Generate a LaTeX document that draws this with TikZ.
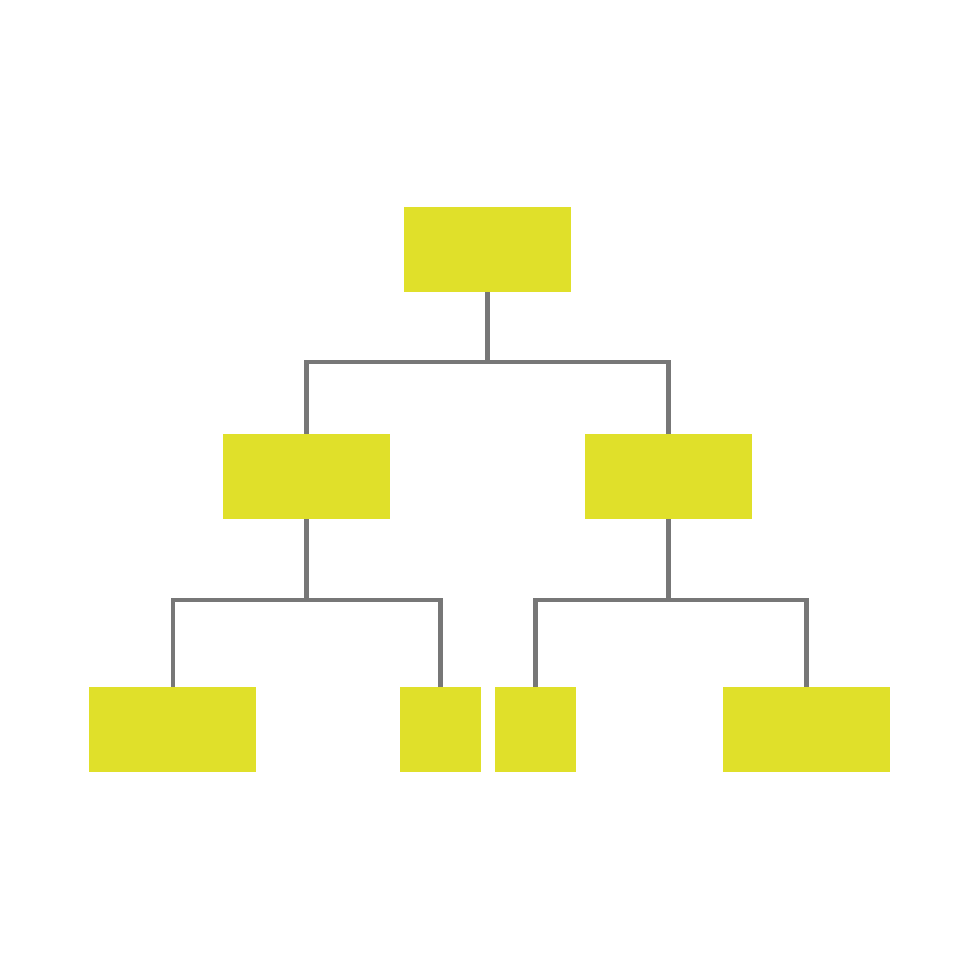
\documentclass[tikz,border=0pt]{standalone}
\usepackage{tikz}
\definecolor{boxyellow}{HTML}{E0E02A}
\definecolor{linkgray}{HTML}{777777}
\tikzset{box/.style={shape=rectangle, fill=boxyellow, inner sep=0pt, outer sep=0pt, minimum width=1.67cm, minimum height=0.85cm},
smallbox/.style={box, minimum width=0.81cm},
link/.style={draw=linkgray, line width=0.045cm}}

\begin{document}
\begin{tikzpicture}
\useasboundingbox (0,0) rectangle (9.8,-9.8);
\node[style=box] (top) at (4.875,-2.495) {};
\node[style=box] (ml) at (3.065,-4.765) {};
\node[style=box] (mr) at (6.685,-4.765) {};
\node[style=box] (bl) at (1.73,-7.295) {};
\node[style=smallbox] (bml) at (4.405,-7.295) {};
\node[style=smallbox] (bmr) at (5.355,-7.295) {};
\node[style=box] (br) at (8.065,-7.295) {};
\coordinate (jtop) at (4.875,-3.62);
\coordinate (jl) at (3.065,-6.0);
\coordinate (jr) at (6.685,-6.0);
\draw[link] (top.south) -- (jtop) -| (ml.north);
\draw[link] (jtop) -| (mr.north);
\draw[link] (ml.south) -- (jl) -| (bl.north);
\draw[link] (jl) -| (bml.north);
\draw[link] (mr.south) -- (jr) -| (bmr.north);
\draw[link] (jr) -| (br.north);
\end{tikzpicture}
\end{document}
